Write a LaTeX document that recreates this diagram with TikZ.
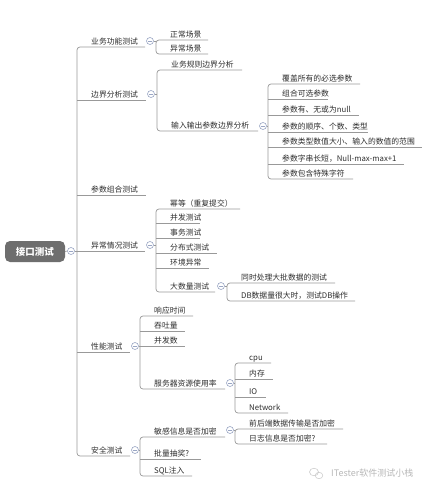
\documentclass[tikz,border=0pt]{standalone}
\usepackage{fontspec}
\newfontfamily\cjk{Noto Sans CJK SC}
\usetikzlibrary{calc}
\definecolor{linec}{HTML}{999999}
\definecolor{textc}{HTML}{2E2E2E}
\definecolor{rootc}{HTML}{6E6E6E}
\definecolor{btnc}{HTML}{9AA6C4}
\tikzset{
  mmline/.style={draw=linec, line width=0.7pt},
  mmbrk/.style={mmline, rounded corners=3pt},
  mmtext/.style={inner sep=0pt, text=textc, font=\cjk\fontsize{7.8}{9}\selectfont},
  rootbox/.style={rounded corners=5pt, fill=rootc, text=white, minimum width=60pt, minimum height=21pt, inner sep=0pt, font=\cjk\bfseries\fontsize{9.5}{11}\selectfont},
  btn/.style={circle, draw=btnc, fill=white, line width=0.6pt, minimum size=7pt, inner sep=0pt,
    path picture={\draw[btnc, line width=0.6pt] ([xshift=-1.8pt]path picture bounding box.center) -- ([xshift=1.8pt]path picture bounding box.center);}},
  wmark/.style={inner sep=0pt, text=black!28, font=\cjk\fontsize{9}{10}\selectfont}
}
% #1 name, #2 bracket x, #3 underline y, #4 underline end x, #5 text
\newcommand\mmt[5]{%
  \coordinate (#1-s) at (#2,#3);
  \coordinate (#1-e) at (#4,#3);
  \node[mmtext, anchor=base west] (#1) at (#2+14,#3-2.6) {#5};
}
\begin{document}
\begin{tikzpicture}[x=1pt,y=-1pt]
\useasboundingbox (0,0) rectangle (438,501);
\fill[white] (0,0) rectangle (438,501);

% root
\node[rootbox] (root) at (35,251.5) {接口测试};
\node[btn] (rbtn) at (71,251) {};
\draw[mmline] (root.east) -- (rbtn.west);

% level 1
\mmt{A}{77}{47}{145}{业务功能测试}
\mmt{B}{77}{100}{146}{边界分析测试}
\mmt{C}{77}{195}{146}{参数组合测试}
\mmt{D}{77}{251}{145}{异常情况测试}
\mmt{E}{77}{352}{130}{性能测试}
\mmt{F}{77}{456}{130}{安全测试}
\draw[mmbrk] (A-e) -- (A-s) -- (F-s) -- (F-e);
\foreach \n in {B,C,D,E} \draw[mmline] (\n-s) -- (\n-e);
\draw[mmline] (rbtn.east) -- (rbtn.east -| A-s);

% A children
\node[btn] (Abtn) at (150,41) {};
\mmt{A1}{156}{40}{208}{正常场景}
\mmt{A2}{156}{54}{208}{异常场景}
\draw[mmbrk] (A1-e) -- (A1-s) -- (A2-s) -- (A2-e);
\draw[mmline] (Abtn.east) -- (Abtn.east -| A1-s);

% B children
\node[btn] (Bbtn) at (151,94) {};
\mmt{B1}{157}{70}{242}{业务规则边界分析}
\mmt{B2}{157}{131}{258}{输入输出参数边界分析}
\draw[mmbrk] (B1-e) -- (B1-s) -- (B2-s) -- (B2-e);
\draw[mmline] (Bbtn.east) -- (Bbtn.east -| B1-s);

% B2 children
\node[btn] (B2btn) at (263,126) {};
\mmt{P1}{268}{84}{360}{覆盖所有的必选参数}
\mmt{P2}{268}{99}{328}{组合可选参数}
\mmt{P3}{268}{115}{359}{参数有、无或为null}
\mmt{P4}{268}{132}{368}{参数的顺序、个数、类型}
\mmt{P5}{268}{147}{422}{参数类型数值大小、输入的数值的范围}
\mmt{P6}{268}{164}{404}{参数字串长短，Null-max-max+1}
\mmt{P7}{268}{179}{353}{参数包含特殊字符}
\draw[mmbrk] (P1-e) -- (P1-s) -- (P7-s) -- (P7-e);
\foreach \n in {P2,P3,P4,P5,P6} \draw[mmline] (\n-s) -- (\n-e);
\draw[mmline] (B2btn.east) -- (B2btn.east -| P1-s);

% D children
\node[btn] (Dbtn) at (150,245) {};
\mmt{D1}{156}{209}{240}{幂等（重复提交）}
\mmt{D2}{156}{223}{200}{并发测试}
\mmt{D3}{156}{238}{200}{事务测试}
\mmt{D4}{156}{253}{217}{分布式测试}
\mmt{D5}{156}{268}{209}{环境异常}
\mmt{D6}{156}{292}{215}{大数量测试}
\draw[mmbrk] (D1-e) -- (D1-s) -- (D6-s) -- (D6-e);
\foreach \n in {D2,D3,D4,D5} \draw[mmline] (\n-s) -- (\n-e);
\draw[mmline] (Dbtn.east) -- (Dbtn.east -| D1-s);

% D6 children
\node[btn] (D6btn) at (221,286) {};
\mmt{G1}{227}{283}{335}{同时处理大批数据的测试}
\mmt{G2}{227}{301}{355}{DB数据量很大时，测试DB操作}
\draw[mmbrk] (G1-e) -- (G1-s) -- (G2-s) -- (G2-e);
\draw[mmline] (D6btn.east) -- (D6btn.east -| G1-s);

% E children
\node[btn] (Ebtn) at (135,346) {};
\mmt{E1}{140}{316}{193}{响应时间}
\mmt{E2}{140}{331}{185}{吞吐量}
\mmt{E3}{140}{346}{185}{并发数}
\mmt{E4}{140}{389}{225}{服务器资源使用率}
\draw[mmbrk] (E1-e) -- (E1-s) -- (E4-s) -- (E4-e);
\foreach \n in {E2,E3} \draw[mmline] (\n-s) -- (\n-e);
\draw[mmline] (Ebtn.east) -- (Ebtn.east -| E1-s);

% E4 children
\node[btn] (E4btn) at (230,383) {};
\mmt{R1}{235}{363}{271}{cpu}
\mmt{R2}{235}{379}{273}{内存}
\mmt{R3}{235}{397}{266}{IO}
\mmt{R4}{235}{413}{288}{Network}
\draw[mmbrk] (R1-e) -- (R1-s) -- (R4-s) -- (R4-e);
\foreach \n in {R2,R3} \draw[mmline] (\n-s) -- (\n-e);
\draw[mmline] (E4btn.east) -- (E4btn.east -| R1-s);

% F children
\node[btn] (Fbtn) at (135,450) {};
\mmt{F1}{140}{437}{225}{敏感信息是否加密}
\mmt{F2}{140}{459}{201}{批量抽奖?}
\mmt{F3}{140}{476}{192}{SQL注入}
\draw[mmbrk] (F1-e) -- (F1-s) -- (F3-s) -- (F3-e);
\draw[mmline] (F2-s) -- (F2-e);
\draw[mmline] (Fbtn.east) -- (Fbtn.east -| F1-s);

% F1 children
\node[btn] (F1btn) at (230,430) {};
\mmt{S1}{235}{429}{343}{前后端数据传输是否加密}
\mmt{S2}{235}{444}{327}{日志信息是否加密?}
\draw[mmbrk] (S1-e) -- (S1-s) -- (S2-s) -- (S2-e);
\draw[mmline] (F1btn.east) -- (F1btn.east -| S1-s);

% watermark
\draw[black!22, line width=0.5pt] (314,472) ellipse (4.5pt and 3.8pt);
\draw[black!22, line width=0.5pt] (319,475.5) ellipse (3.8pt and 3.2pt);
\node[wmark, anchor=west] (wm) at (331,473.5) {ITester软件测试小栈};
\end{tikzpicture}
\end{document}
